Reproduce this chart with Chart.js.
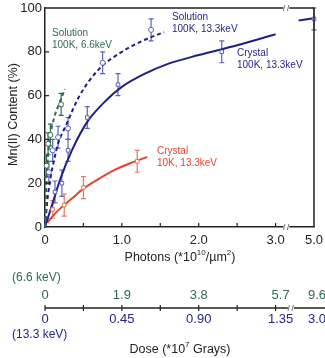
<!DOCTYPE html>
<html>
<head>
<meta charset="utf-8">
<script src="https://cdn.jsdelivr.net/npm/chart.js@4.4.0/dist/chart.umd.min.js"></script>
<style>
  html, body { margin: 0; padding: 0; background: #fff; }
  #wrap { position: relative; width: 325px; height: 358px; }
</style>
</head>
<body>
<div id="wrap"><canvas id="chart"></canvas></div>
<script>
// --- data (photons in 1e10/um^2, content in %) ---
const solGreenCurveX = [0, 0.01, 0.02, 0.04, 0.07, 0.12, 0.18, 0.26];
const solGreenCurveY = [0, 12, 22, 33, 42, 50, 56, 63];
const solGreenX   = [0.02, 0.04, 0.07, 0.21];
const solGreenY   = [28, 38, 42, 56];
const solGreenErr = [5, 5, 5, 5];

const solBlueCurveX = [0, 0.03, 0.07, 0.12, 0.17, 0.28, 0.45, 0.7, 1.0, 1.3, 1.55];
const solBlueCurveY = [0, 12, 22, 31, 38, 47, 60, 72, 80, 85.5, 89];
const solBlueX   = [0.05, 0.1, 0.17, 0.3, 0.75, 1.38];
const solBlueY   = [25, 35, 41, 45, 75, 90];
const solBlueErr = [5, 5, 5, 5, 5, 5];

const cry100CurveX = [0, 0.1, 0.2, 0.35, 0.55, 0.8, 1.0, 1.3, 1.6, 2.0, 2.5, 3.0, 3.1, 4.2, 5.0];
const cry100CurveY = [0, 11, 22, 35, 48, 58, 64, 70, 74.5, 78.5, 83, 88, null, 94.3, 95.3];
const cry100X   = [0.13, 0.22, 0.3, 0.55, 0.95, 2.3, 5.0];
const cry100Y   = [16, 20, 35, 50, 65, 80, 95];
const cry100Err = [5, 6, 5, 5, 5, 5, 5];

const cry10CurveX = [0.03, 0.1, 0.2, 0.35, 0.5, 0.7, 0.9, 1.1, 1.33];
const cry10CurveY = [2, 5, 8.5, 13, 17.5, 22, 26, 29, 32];
const cry10X   = [0.1, 0.25, 0.5, 1.2];
const cry10Y   = [8, 10, 18, 30];
const cry10Err = [4, 5, 5, 5];

const xTickVals   = [0, 1, 2, 3, 5];
const xTickLabels = ['0', '1.0', '2.0', '3.0', '5.0'];
const yTickVals   = [0, 20, 40, 60, 80, 100];
const dose66      = ['0', '1.9', '3.8', '5.7', '9.6'];
const dose133     = ['0', '0.45', '0.90', '1.35', '3.0'];

const FONT  = '"Liberation Sans", Arial, sans-serif';
const NAVY  = '#1f1f86';
const BLUE  = '#5a62bc';
const GREEN = '#2f6a52';
const RED   = '#e2432f';
const REDPT = '#e07a60';

// broken axis: 0..3 linear, then 3..5 squeezed into 3..3.5
function brk(x) { return x <= 3 ? x : 3 + (x - 3) * 0.25; }
function pts(xs, ys) { return xs.map((x, i) => ({ x: brk(x), y: ys[i] })); }

function marks(label, xs, ys, err, color, style) {
  return {
    label, data: pts(xs, ys), err, showLine: false, clip: false,
    borderColor: color, pointStyle: style, pointRadius: 2.5, pointBorderWidth: 1,
    pointBackgroundColor: '#fff', pointBorderColor: color
  };
}
function curve(label, xs, ys, color, dash) {
  return {
    label, data: pts(xs, ys), borderColor: color, borderWidth: 2, borderDash: dash || [],
    pointRadius: 0, tension: 0.4, cubicInterpolationMode: 'monotone', spanGaps: false, clip: false
  };
}

const errBars = {
  id: 'errBars',
  beforeDatasetsDraw(chart) {
    const { ctx, scales: { x, y } } = chart;
    chart.data.datasets.forEach(ds => {
      if (!ds.err) return;
      ctx.save();
      ctx.strokeStyle = ds.borderColor;
      ctx.lineWidth = 1.2;
      ds.data.forEach((p, i) => {
        const px = x.getPixelForValue(p.x);
        const top = y.getPixelForValue(Math.min(100, p.y + ds.err[i]));
        const bot = y.getPixelForValue(p.y - ds.err[i]);
        ctx.beginPath();
        ctx.moveTo(px, top); ctx.lineTo(px, bot);
        ctx.moveTo(px - 2.5, top); ctx.lineTo(px + 2.5, top);
        ctx.moveTo(px - 2.5, bot); ctx.lineTo(px + 2.5, bot);
        ctx.stroke();
      });
      ctx.restore();
    });
  }
};

// text with superscript parts: [[text, isSup], ...]
function rich(ctx, parts, cx, cy, size, color) {
  const sup = Math.round(size * 0.65);
  let w = 0;
  parts.forEach(([t, s]) => { ctx.font = (s ? sup : size) + 'px ' + FONT; w += ctx.measureText(t).width; });
  let xx = cx - w / 2;
  ctx.fillStyle = color;
  ctx.textAlign = 'left';
  ctx.textBaseline = 'middle';
  parts.forEach(([t, s]) => {
    ctx.font = (s ? sup : size) + 'px ' + FONT;
    ctx.fillText(t, xx, s ? cy - size * 0.4 : cy);
    xx += ctx.measureText(t).width;
  });
}

function breakMark(ctx, px, py) {
  ctx.save();
  ctx.fillStyle = '#fff';
  ctx.fillRect(px - 3, py - 2, 6, 4);
  ctx.strokeStyle = '#777';
  ctx.lineWidth = 1;
  ctx.beginPath();
  ctx.moveTo(px - 3, py + 3); ctx.lineTo(px - 1.5, py - 3);
  ctx.moveTo(px + 1, py + 3); ctx.lineTo(px + 2.5, py - 3);
  ctx.stroke();
  ctx.restore();
}

const frame = {
  id: 'frame',
  afterDraw(chart) {
    const { ctx, chartArea: a, scales: { x, y } } = chart;
    ctx.save();
    ctx.strokeStyle = '#222';
    ctx.lineWidth = 1.5;
    ctx.beginPath();
    ctx.moveTo(a.left, a.top); ctx.lineTo(a.right, a.top); ctx.lineTo(a.right, a.bottom);
    ctx.stroke();

    // inside ticks
    ctx.lineWidth = 1.2;
    ctx.beginPath();
    [0.5, 1, 1.5, 2, 2.5, 3].forEach(v => {
      const px = x.getPixelForValue(v);
      ctx.moveTo(px, a.bottom); ctx.lineTo(px, a.bottom - 4);
    });
    [20, 40, 60, 80].forEach(v => {
      const py = y.getPixelForValue(v);
      ctx.moveTo(a.left, py); ctx.lineTo(a.left + 4, py);
    });
    ctx.stroke();

    const bx = x.getPixelForValue(3.14);
    breakMark(ctx, bx, a.top);
    breakMark(ctx, bx, a.bottom);

    // in-plot labels
    ctx.font = '10px ' + FONT;
    ctx.textAlign = 'left';
    ctx.textBaseline = 'middle';
    const lab = (lines, px, py, color) => {
      ctx.fillStyle = color;
      lines.forEach((t, i) => ctx.fillText(t, px, py + i * 12));
    };
    lab(['Solution', '100K, 6.6keV'], 52, 33, GREEN);
    lab(['Solution', '100K, 13.3keV'], 172, 17, NAVY);
    lab(['Crystal', '100K, 13.3keV'], 237, 53, NAVY);
    lab(['Crystal', '10K, 13.3keV'], 157, 151, RED);

    // axis titles
    rich(ctx, [['Photons (*10', false], ['10', true], ['/\u00b5m', false], ['2', true], [')', false]],
      180, 258, 12.5, '#222');
    ctx.save();
    ctx.translate(14, (a.top + a.bottom) / 2 - 3);
    ctx.rotate(-Math.PI / 2);
    ctx.font = '12.5px ' + FONT;
    ctx.fillStyle = '#222';
    ctx.textAlign = 'center';
    ctx.textBaseline = 'middle';
    ctx.fillText('Mn(II) Content (%)', 0, 0);
    ctx.restore();

    // dose axis
    const dy = 308;
    ctx.strokeStyle = '#222';
    ctx.lineWidth = 1.5;
    ctx.beginPath();
    ctx.moveTo(a.left, dy); ctx.lineTo(325, dy);
    ctx.stroke();
    ctx.lineWidth = 1.2;
    ctx.beginPath();
    [0, 0.5, 1, 1.5, 2, 2.5, 3].forEach(v => {
      const px = x.getPixelForValue(v);
      ctx.moveTo(px, dy - 3); ctx.lineTo(px, dy + 3);
    });
    ctx.stroke();
    breakMark(ctx, x.getPixelForValue(3.2), dy);

    ctx.font = '13px ' + FONT;
    ctx.textAlign = 'center';
    xTickVals.forEach((v, i) => {
      const px = x.getPixelForValue(brk(v)) + (i === 3 ? 5 : (i === 4 ? 3 : 0));
      ctx.fillStyle = GREEN;
      ctx.fillText(dose66[i], px, 295);
      ctx.fillStyle = NAVY;
      ctx.fillText(dose133[i], px, 319);
    });
    ctx.font = '12px ' + FONT;
    ctx.textAlign = 'left';
    ctx.fillStyle = GREEN;
    ctx.fillText('(6.6 keV)', 12, 278);
    ctx.fillStyle = NAVY;
    ctx.fillText('(13.3 keV)', 12, 335);
    rich(ctx, [['Dose (*10', false], ['7', true], [' Grays)', false]], 180, 350, 12.5, '#222');
    ctx.restore();
  }
};

new Chart(document.getElementById('chart'), {
  type: 'line',
  data: {
    datasets: [
      marks('Solution 100K 6.6keV', solGreenX, solGreenY, solGreenErr, GREEN, 'circle'),
      marks('Solution 100K 13.3keV', solBlueX, solBlueY, solBlueErr, BLUE, 'circle'),
      marks('Crystal 100K 13.3keV', cry100X, cry100Y, cry100Err, BLUE, 'rect'),
      marks('Crystal 10K 13.3keV', cry10X, cry10Y, cry10Err, REDPT, 'rect'),
      curve('Solution 6.6 fit', solGreenCurveX, solGreenCurveY, GREEN, [4, 3]),
      curve('Solution 13.3 fit', solBlueCurveX, solBlueCurveY, NAVY, [4, 3]),
      curve('Crystal 100K fit', cry100CurveX, cry100CurveY, NAVY),
      curve('Crystal 10K fit', cry10CurveX, cry10CurveY, RED)
    ]
  },
  options: {
    responsive: true,
    maintainAspectRatio: false,
    animation: false,
    layout: { padding: { top: 8, right: 11, left: 0, bottom: 0 } },
    plugins: { legend: { display: false }, tooltip: { enabled: false } },
    scales: {
      x: {
        type: 'linear', min: 0, max: 3.5,
        afterBuildTicks: s => { s.ticks = xTickVals.map(v => ({ value: brk(v) })); },
        afterFit: s => { s.height = 131; s.paddingLeft = 0; s.paddingRight = 0; },
        ticks: {
          autoSkip: false, maxRotation: 0, padding: 6, color: '#222',
          font: { family: FONT, size: 13 },
          callback: (v, i) => xTickLabels[i]
        },
        grid: { display: false, drawTicks: false },
        border: { color: '#222', width: 1.5 }
      },
      y: {
        min: 0, max: 100,
        afterBuildTicks: s => { s.ticks = yTickVals.map(v => ({ value: v })); },
        afterFit: s => { s.width = 45; s.paddingTop = 0; s.paddingBottom = 0; },
        ticks: { padding: 3, color: '#222', font: { family: FONT, size: 13 } },
        grid: { display: false, drawTicks: false },
        border: { color: '#222', width: 1.5 }
      }
    }
  },
  plugins: [errBars, frame]
});
</script>
</body>
</html>
